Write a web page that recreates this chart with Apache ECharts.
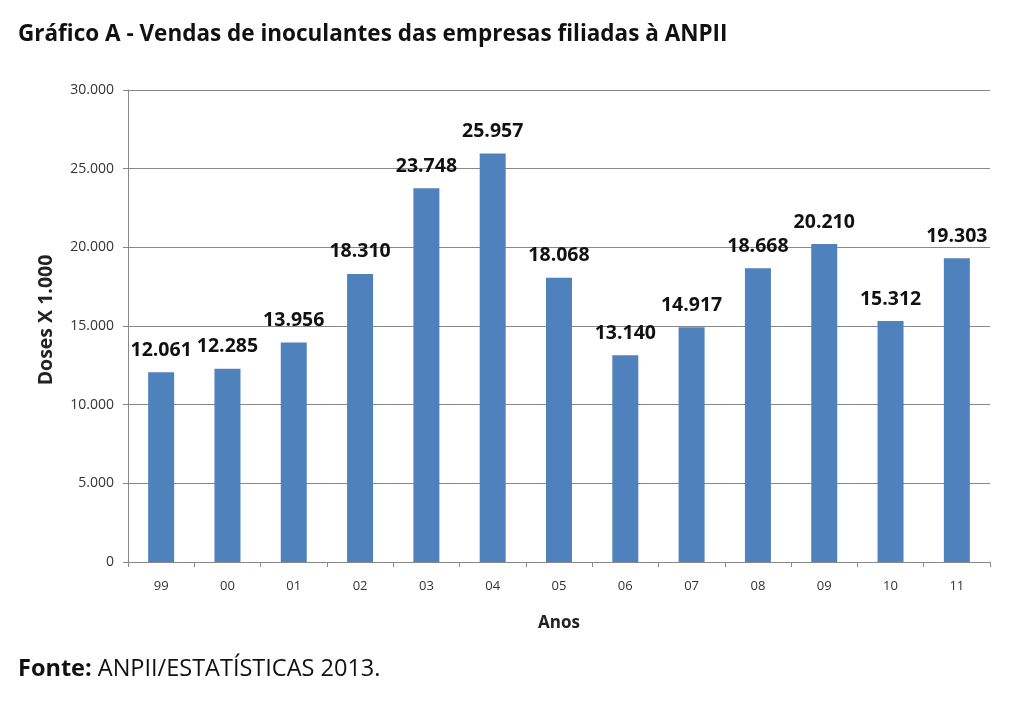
<!DOCTYPE html>
<html><head><meta charset="utf-8">
<script src="https://cdn.jsdelivr.net/npm/echarts@6/dist/echarts.min.js"></script>
<style>html,body{margin:0;padding:0;background:#fff}#c{width:1024px;height:708px}</style>
</head><body><div id="c"></div>
<script>
const categories = ['99','00','01','02','03','04','05','06','07','08','09','10','11'];
const doses = [12061,12285,13956,18310,23748,25957,18068,13140,14917,18668,20210,15312,19303];
const titleText = 'Gráfico A - Vendas de inoculantes das empresas filiadas à ANPII';
const sourceLabel = 'Fonte:';
const sourceText = ' ANPII/ESTATÍSTICAS 2013.';
const yAxisName = 'Doses X 1.000';
const xAxisName = 'Anos';

function fmt(v){ return String(v).replace(/\B(?=(\d{3})+(?!\d))/g,'.'); }

const chart = echarts.init(document.getElementById('c'));
chart.setOption({
  animation:false,
  title:[
    {text:titleText,left:13,top:18,textStyle:{fontFamily:'Open Sans',fontWeight:'bold',fontSize:22.5,color:'#111'}},
    {text:'{b|'+sourceLabel+'}{n|'+sourceText+'}',left:13,top:652,
     textStyle:{rich:{b:{fontFamily:'Open Sans',fontWeight:'bold',fontSize:23.5,color:'#111'},n:{fontFamily:'Open Sans',fontWeight:'normal',fontSize:23.5,color:'#111'}}}}
  ],
  grid:{left:128,right:34,top:90,bottom:146},
  xAxis:{type:'category',data:categories,
    name:xAxisName,nameLocation:'middle',nameGap:53,
    nameTextStyle:{fontFamily:'Open Sans',fontWeight:'bold',fontSize:17,color:'#222'},
    axisLine:{lineStyle:{color:'#888'}},
    axisTick:{show:true,length:5,lineStyle:{color:'#888'}},
    axisLabel:{fontFamily:'Open Sans',fontSize:13,color:'#333',margin:18}},
  yAxis:{type:'value',min:0,max:30000,interval:5000,
    name:yAxisName,nameLocation:'middle',nameGap:72,nameRotate:90,
    nameTextStyle:{fontFamily:'Open Sans',fontWeight:'bold',fontSize:19.5,color:'#222',padding:[0,0,0,12]},
    axisLine:{show:true,lineStyle:{color:'#888'}},
    axisTick:{show:true,length:5,lineStyle:{color:'#888'}},
    splitLine:{lineStyle:{color:'#888'}},
    axisLabel:{fontFamily:'Open Sans',fontSize:14,color:'#333',margin:14,formatter:v=>fmt(v)}},
  series:[{type:'bar',data:doses,barWidth:26,
    itemStyle:{color:'#4f81bd'},
    label:{show:true,position:'top',distance:12,formatter:p=>fmt(p.value),
      fontFamily:'Open Sans',fontWeight:'bold',fontSize:19.5,color:'#111'}}]
});
</script></body></html>
